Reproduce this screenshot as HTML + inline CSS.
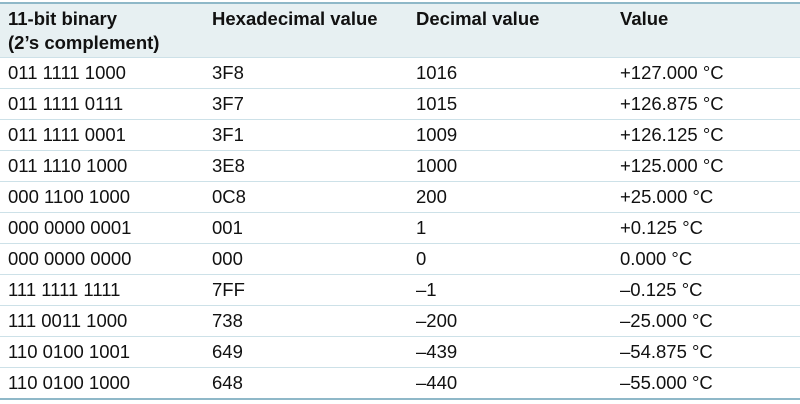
<!DOCTYPE html>
<html><head><meta charset="utf-8"><style>
body{margin:0;background:#fff;font-family:"Liberation Sans",Arial,sans-serif;color:#111;}
table{position:absolute;left:0;top:2px;width:800px;border-collapse:collapse;font-size:18.5px;}
thead tr{background:#e7f0f2;border-top:2px solid #8fb8c8;}
th{font-weight:bold;text-align:left;vertical-align:top;padding:3px 0 0 8px;height:50px;line-height:24px;}
td{padding:0 0 0 8px;height:30px;border-top:1px solid #cde1e8;line-height:30px;}
tbody tr:last-child{border-bottom:2px solid #8fb8c8;}
col{width:204px}
</style></head><body>
<table>
<colgroup><col><col><col><col style="width:188px"></colgroup>
<thead><tr>
<th>11-bit binary<br>(2’s complement)</th>
<th>Hexadecimal value</th>
<th>Decimal value</th>
<th>Value</th>
</tr></thead>
<tbody>
<tr><td>011 1111 1000</td><td>3F8</td><td>1016</td><td>+127.000 °C</td></tr>
<tr><td>011 1111 0111</td><td>3F7</td><td>1015</td><td>+126.875 °C</td></tr>
<tr><td>011 1111 0001</td><td>3F1</td><td>1009</td><td>+126.125 °C</td></tr>
<tr><td>011 1110 1000</td><td>3E8</td><td>1000</td><td>+125.000 °C</td></tr>
<tr><td>000 1100 1000</td><td>0C8</td><td>200</td><td>+25.000 °C</td></tr>
<tr><td>000 0000 0001</td><td>001</td><td>1</td><td>+0.125 °C</td></tr>
<tr><td>000 0000 0000</td><td>000</td><td>0</td><td>0.000 °C</td></tr>
<tr><td>111 1111 1111</td><td>7FF</td><td>–1</td><td>–0.125 °C</td></tr>
<tr><td>111 0011 1000</td><td>738</td><td>–200</td><td>–25.000 °C</td></tr>
<tr><td>110 0100 1001</td><td>649</td><td>–439</td><td>–54.875 °C</td></tr>
<tr><td>110 0100 1000</td><td>648</td><td>–440</td><td>–55.000 °C</td></tr>
</tbody></table>
</body></html>
